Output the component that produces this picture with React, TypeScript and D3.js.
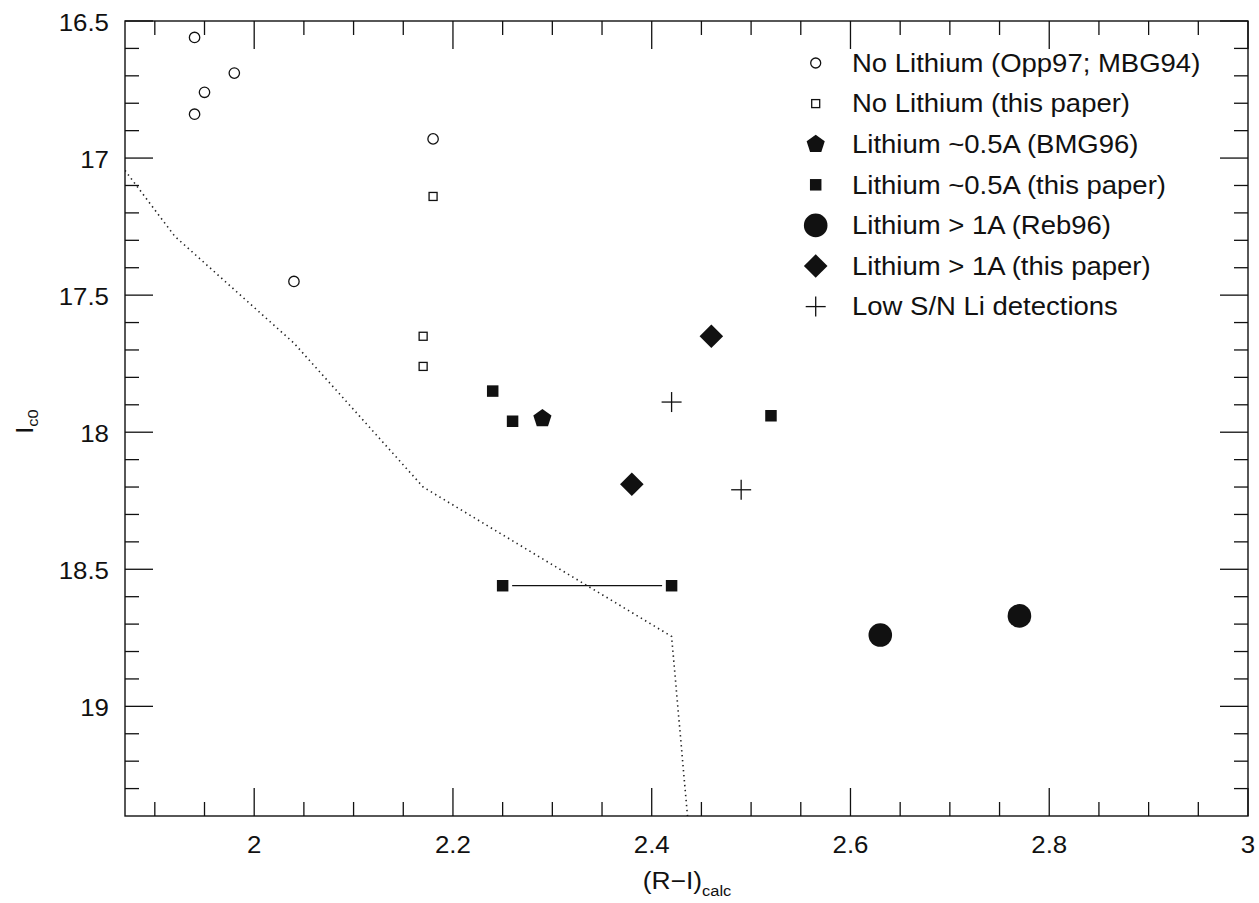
import React from "react";
import * as d3 from "d3";

// ---- data ----
const noLiOppX = [1.94, 1.98, 1.95, 1.94, 2.04, 2.18];
const noLiOppY = [16.56, 16.69, 16.76, 16.84, 17.45, 16.93];

const noLiThisX = [2.18, 2.17, 2.17];
const noLiThisY = [17.14, 17.65, 17.76];

const liBMGX = [2.29];
const liBMGY = [17.95];

const liThisX = [2.24, 2.26, 2.52, 2.25, 2.42];
const liThisY = [17.85, 17.96, 17.94, 18.56, 18.56];

const liRebX = [2.63, 2.77];
const liRebY = [18.74, 18.67];

const liBigThisX = [2.46, 2.38];
const liBigThisY = [17.65, 18.19];

const lowSNX = [2.42, 2.49];
const lowSNY = [17.89, 18.21];

// horizontal connector between the two 18.56 measurements
const rangeX = [2.25, 2.42];
const rangeY = 18.56;

// dotted isochrone
const isoX = [1.87, 1.92, 2.04, 2.17, 2.42, 2.436];
const isoY = [17.045, 17.285, 17.675, 18.2, 18.745, 19.4];

const xMajor = [2, 2.2, 2.4, 2.6, 2.8, 3];
const xMajorLabels = ["2", "2.2", "2.4", "2.6", "2.8", "3"];
const yMajor = [16.5, 17, 17.5, 18, 18.5, 19];
const yMajorLabels = ["16.5", "17", "17.5", "18", "18.5", "19"];

const legendLabels = [
  "No Lithium (Opp97; MBG94)",
  "No Lithium (this paper)",
  "Lithium ~0.5A (BMG96)",
  "Lithium ~0.5A (this paper)",
  "Lithium > 1A (Reb96)",
  "Lithium > 1A (this paper)",
  "Low S/N Li detections",
];

const FONT = "'Liberation Sans', Arial, Helvetica, sans-serif";
const INK = "#111";

const W = 1259;
const H = 903;
const L = 125, R = 1248, T = 21, B = 816;

const x = d3.scaleLinear().domain([1.87, 3.0]).range([L, R]);
const y = d3.scaleLinear().domain([16.5, 19.4]).range([T, B]);

const pentagon = {
  draw(ctx: any, size: number) {
    const r = Math.sqrt(size / 2.378);
    for (let i = 0; i < 5; i++) {
      const a = -Math.PI / 2 + (i * 2 * Math.PI) / 5;
      const px = r * Math.cos(a), py = r * Math.sin(a);
      if (i === 0) ctx.moveTo(px, py); else ctx.lineTo(px, py);
    }
    ctx.closePath();
  },
};
const diamond = {
  draw(ctx: any, size: number) {
    const r = Math.sqrt(size / 2);
    ctx.moveTo(0, -r); ctx.lineTo(r, 0); ctx.lineTo(0, r); ctx.lineTo(-r, 0); ctx.closePath();
  },
};

const sym = (type: any, size: number) => d3.symbol().type(type).size(size)() as string;

type Kind = "openCircle" | "openSquare" | "pentagon" | "square" | "bigCircle" | "diamond" | "plus";

function Marker({ kind, cx, cy, legend }: { kind: Kind; cx: number; cy: number; legend?: boolean }) {
  const t = `translate(${cx},${cy})`;
  switch (kind) {
    case "openCircle":
      return <circle cx={cx} cy={cy} r={legend ? 5 : 5.2} fill="white" stroke={INK} strokeWidth={1.3} />;
    case "openSquare":
      return <rect x={cx - 4} y={cy - 4} width={8} height={8} fill="white" stroke={INK} strokeWidth={1.3} />;
    case "pentagon":
      return <path transform={t} d={sym(pentagon, 15.5 * 15.5 * 0.9)} fill={INK} />;
    case "square":
      return <path transform={t} d={sym(d3.symbolSquare, 11.5 * 11.5)} fill={INK} />;
    case "bigCircle":
      return <path transform={t} d={sym(d3.symbolCircle, Math.PI * 11.8 * 11.8)} fill={INK} />;
    case "diamond":
      return <path transform={t} d={sym(diamond, 2 * 11.8 * 11.8)} fill={INK} />;
    case "plus":
      return (
        <g stroke={INK} strokeWidth={1.3}>
          <line x1={cx - 10} x2={cx + 10} y1={cy} y2={cy} />
          <line x1={cx} x2={cx} y1={cy - 10} y2={cy + 10} />
        </g>
      );
  }
}

const series: { kind: Kind; xs: number[]; ys: number[] }[] = [
  { kind: "openCircle", xs: noLiOppX, ys: noLiOppY },
  { kind: "openSquare", xs: noLiThisX, ys: noLiThisY },
  { kind: "pentagon", xs: liBMGX, ys: liBMGY },
  { kind: "square", xs: liThisX, ys: liThisY },
  { kind: "bigCircle", xs: liRebX, ys: liRebY },
  { kind: "diamond", xs: liBigThisX, ys: liBigThisY },
  { kind: "plus", xs: lowSNX, ys: lowSNY },
];

function StretchText({ tx, ty, anchor, size, children, dy }: any) {
  return (
    <text
      transform={`translate(${tx},${ty}) scale(1.1,1)`}
      textAnchor={anchor}
      fontSize={size}
      fontFamily={FONT}
      fill={INK}
      dy={dy}
    >
      {children}
    </text>
  );
}

export default function App() {
  const xMinor = d3.range(1.9, 3.0001, 0.05).map((v) => +v.toFixed(2)).filter((v) => !xMajor.some((m) => Math.abs(m - v) < 1e-6));
  const yMinor = d3.range(16.6, 19.4, 0.1).map((v) => +v.toFixed(1)).filter((v) => !yMajor.some((m) => Math.abs(m - v) < 1e-6));

  const isoLine = d3.line<number>().x((_, i) => x(isoX[i])).y((_, i) => y(isoY[i]))(isoX) as string;

  const MAJ = 28, MIN = 14;
  const legendX = 815.7, legendTextX = 852, legendY0 = 63, legendDY = 40.6;

  return (
    <div style={{ position: "absolute", left: 0, top: 0 }}>
      <svg width={W} height={H} style={{ display: "block", background: "white" }}>
        <rect x={0} y={0} width={W} height={H} fill="white" />
        <defs>
          <clipPath id="plotClip">
            <rect x={L} y={T} width={R - L} height={B - T} />
          </clipPath>
        </defs>

        {/* ticks */}
        <g stroke={INK} strokeWidth={1.3}>
          {xMajor.map((v) => (
            <g key={"xM" + v}>
              <line x1={x(v)} x2={x(v)} y1={B} y2={B - MAJ} />
              <line x1={x(v)} x2={x(v)} y1={T} y2={T + MAJ} />
            </g>
          ))}
          {xMinor.map((v) => (
            <g key={"xm" + v}>
              <line x1={x(v)} x2={x(v)} y1={B} y2={B - MIN} />
              <line x1={x(v)} x2={x(v)} y1={T} y2={T + MIN} />
            </g>
          ))}
          {yMajor.map((v) => (
            <g key={"yM" + v}>
              <line x1={L} x2={L + MAJ} y1={y(v)} y2={y(v)} />
              <line x1={R} x2={R - MAJ} y1={y(v)} y2={y(v)} />
            </g>
          ))}
          {yMinor.map((v) => (
            <g key={"ym" + v}>
              <line x1={L} x2={L + MIN} y1={y(v)} y2={y(v)} />
              <line x1={R} x2={R - MIN} y1={y(v)} y2={y(v)} />
            </g>
          ))}
        </g>

        {/* isochrone */}
        <path d={isoLine} fill="none" stroke="#222" strokeWidth={1.6} strokeDasharray="1.4 3.6" clipPath="url(#plotClip)" />

        {/* connector */}
        <line x1={x(rangeX[0]) + 9.5} x2={x(rangeX[1]) - 9.5} y1={y(rangeY)} y2={y(rangeY)} stroke={INK} strokeWidth={1.3} />

        {/* markers */}
        {series.map((s) =>
          s.xs.map((xv, i) => <Marker key={s.kind + i} kind={s.kind} cx={x(xv)} cy={y(s.ys[i])} />)
        )}

        {/* frame */}
        <rect x={L} y={T} width={R - L} height={B - T} fill="none" stroke={INK} strokeWidth={1.4} />

        {/* tick labels */}
        {xMajor.map((v, i) => (
          <StretchText key={"xl" + v} tx={x(v)} ty={853} anchor="middle" size={23.5}>
            {xMajorLabels[i]}
          </StretchText>
        ))}
        {yMajor.map((v, i) => (
          <StretchText key={"yl" + v} tx={109} ty={y(v) + 1.5} anchor="end" size={23.5} dy="0.35em">
            {yMajorLabels[i]}
          </StretchText>
        ))}

        {/* axis titles */}
        <text transform={`translate(687,889) scale(1.1,1)`} textAnchor="middle" fontSize={24} fontFamily={FONT} fill={INK}>
          (R−I)
          <tspan fontSize={15} dy={7}>calc</tspan>
        </text>
        <text transform={`translate(33,434) rotate(-90) scale(1.1,1)`} textAnchor="start" fontSize={24} fontFamily={FONT} fill={INK}>
          I<tspan fontSize={15} dy={5}>c0</tspan>
        </text>

        {/* legend */}
        {series.map((s, i) => (
          <g key={"lg" + i}>
            <Marker kind={s.kind} cx={legendX} cy={legendY0 + i * legendDY} legend />
            <StretchText tx={legendTextX} ty={legendY0 + i * legendDY} anchor="start" size={25} dy="0.35em">
              {legendLabels[i]}
            </StretchText>
          </g>
        ))}
      </svg>
    </div>
  );
}
